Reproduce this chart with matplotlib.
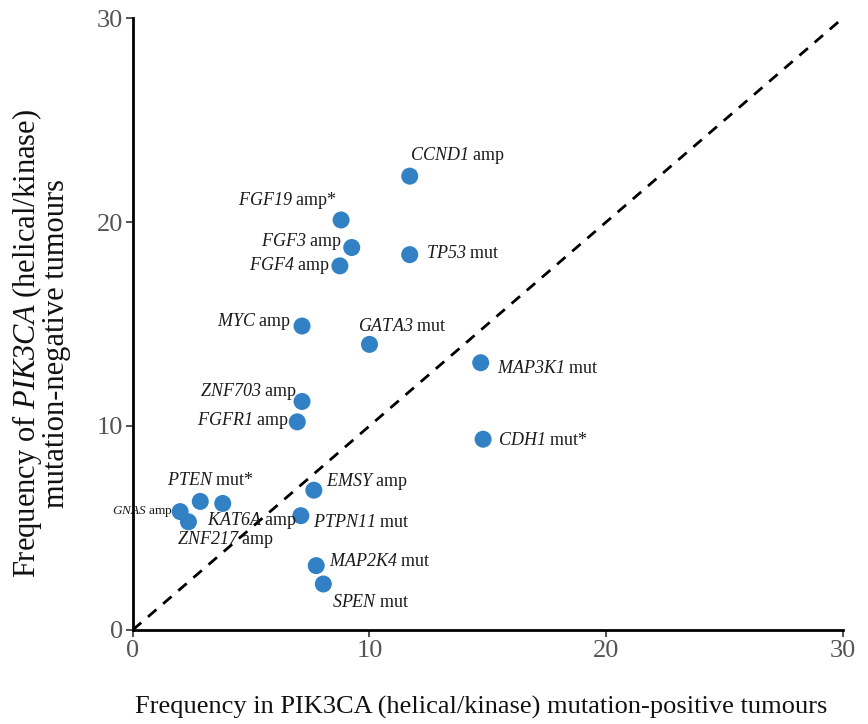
import matplotlib
matplotlib.use("Agg")
import matplotlib.pyplot as plt

plt.rcParams["font.family"] = ["Liberation Serif", "DejaVu Serif"]
# gene symbols are set fully in italics (digits included) through the rm slot
plt.rcParams["mathtext.fontset"] = "custom"
plt.rcParams["mathtext.rm"] = "Liberation Serif:italic"
plt.rcParams["mathtext.it"] = "Liberation Serif:italic"

# Alteration frequencies (%)
genes = ["CCND1", "FGF19", "FGF3", "FGF4", "TP53", "MYC", "GATA3", "MAP3K1",
         "ZNF703", "FGFR1", "CDH1", "EMSY", "PTEN", "GNAS", "KAT6A", "ZNF217",
         "PTPN11", "MAP2K4", "SPEN"]
kinds = ["amp", "amp*", "amp", "amp", "mut", "amp", "mut", "mut",
         "amp", "amp", "mut*", "amp", "mut*", "amp", "amp", "amp",
         "mut", "mut", "mut"]
freq_positive = [11.7, 8.8, 9.25, 8.75, 11.7, 7.15, 10.0, 14.7,
                 7.15, 6.95, 14.8, 7.65, 2.85, 2.0, 3.8, 2.35,
                 7.1, 7.75, 8.05]
freq_negative = [22.25, 20.1, 18.75, 17.85, 18.4, 14.9, 14.0, 13.1,
                 11.2, 10.2, 9.35, 6.85, 6.3, 5.8, 6.2, 5.3,
                 5.6, 3.15, 2.25]

# label placement: offset in points, horizontal alignment, font size
label_offsets = [(0, 15, "left"), (-3, 14, "right"), (-7, 4, "right"), (-7, 0, "right"),
                 (12, 1, "left"), (-8, 3, "right"), (-8, 13, "left"), (12, -4, "left"),
                 (-4, 7, "right"), (-6, 1, "right"), (11, -1, "left"), (9, 6, "left"),
                 (-24, 15, "left"), (-5, 0, "right"), (-11, -12, "left"), (-8, -13, "left"),
                 (9, -5, "left"), (9, 3, "left"), (6, -13, "left")]
label_sizes = [13] * len(genes)
label_sizes[genes.index("GNAS")] = 9.5

fig = plt.figure(figsize=(8.68, 7.24), dpi=100)
ax = fig.add_axes([0.153, 0.13, 0.818, 0.845])

ax.plot([0, 30], [0, 30], color="black", lw=2, ls=(0, (4, 3.2)), zorder=1)
ax.scatter(freq_positive, freq_negative, s=150, color="#3181c4",
           edgecolors="none", zorder=3)

for g, k, x, y, (dx, dy, ha), fs in zip(genes, kinds, freq_positive, freq_negative,
                                         label_offsets, label_sizes):
    ax.annotate(rf"$\mathrm{{{g}}}$ {k}", (x, y), xytext=(dx, dy),
                textcoords="offset points", ha=ha, va="center",
                fontsize=fs, color="#1a1a1a", zorder=4)

ax.set_xlim(0, 30)
ax.set_ylim(0, 30)
ax.set_xticks([0, 10, 20, 30])
ax.set_yticks([0, 10, 20, 30])
for side in ("top", "right"):
    ax.spines[side].set_visible(False)
for side in ("left", "bottom"):
    ax.spines[side].set_linewidth(2)
    ax.spines[side].set_color("black")
ax.tick_params(axis="both", length=5, width=1.2, color="#333333",
               labelsize=19, labelcolor="#555555", pad=2)

ax.set_xlabel("Frequency in PIK3CA (helical/kinase) mutation-positive tumours",
              fontsize=19, color="#111111")
ax.xaxis.set_label_coords(0.49, -0.108)
ax.set_ylabel("Frequency of $\\mathrm{PIK3CA}$ (helical/kinase)\nmutation-negative tumours",
              fontsize=22, color="#111111", linespacing=0.9)
ax.yaxis.set_label_coords(-0.087, 0.468)

fig.savefig("out.png", dpi=100)
